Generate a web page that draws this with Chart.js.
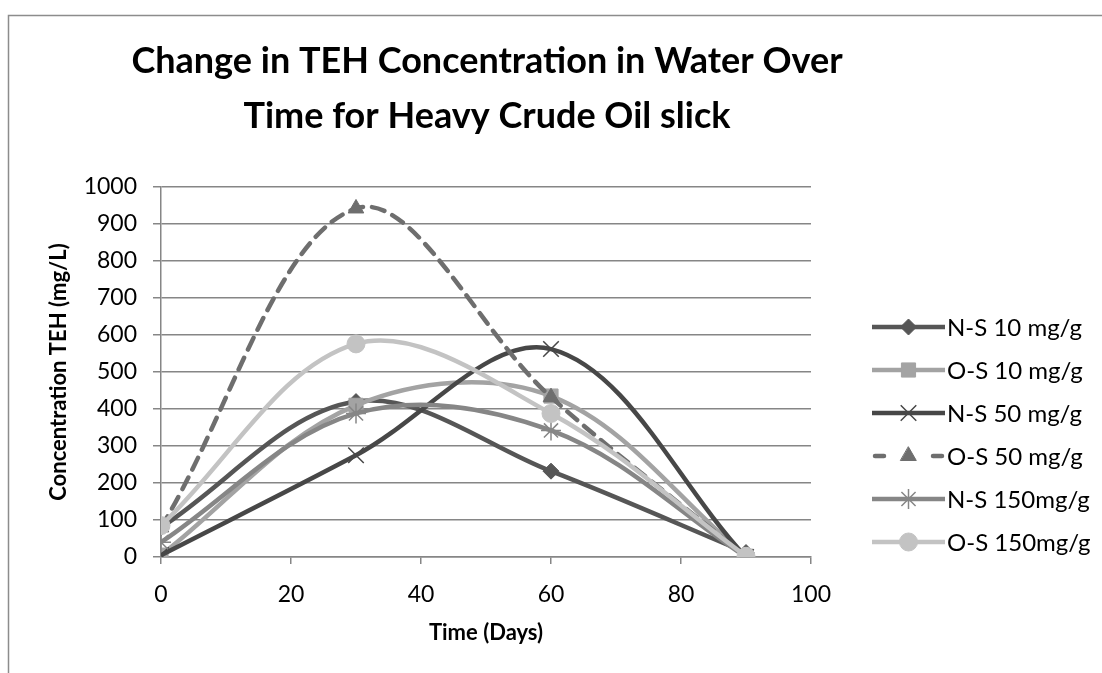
<!DOCTYPE html>
<html>
<head>
<meta charset="utf-8">
<script src="https://cdn.jsdelivr.net/npm/chart.js@4.4.1/dist/chart.umd.min.js"></script>
<style>
  html, body { margin: 0; padding: 0; background: #fff; }
  #wrap { width: 1102px; height: 673px; position: relative; }
</style>
</head>
<body>
<div id="wrap"><canvas id="chart" width="1102" height="673"></canvas></div>
<script>
// ---------- DATA ----------
const days = [0, 30, 60, 90];
const seriesNames = ["N-S 10 mg/g", "O-S 10 mg/g", "N-S 50 mg/g", "O-S 50 mg/g", "N-S 150mg/g", "O-S 150mg/g"];
const ns10 = [80, 420, 232, 12];
const os10 = [5, 410, 435, 2];
const ns50 = [5, 275, 562, 0];
const os50 = [80, 942, 432, 0];
const ns150 = [40, 388, 342, 0];
const os150 = [85, 576, 388, 2];
const xTicks = [0, 20, 40, 60, 80, 100];
const yTicks = [0, 100, 200, 300, 400, 500, 600, 700, 800, 900, 1000];
const titleLines = ["Change in TEH Concentration in Water Over", "Time for Heavy Crude Oil slick"];

const FONT = "Lato, 'Open Sans', sans-serif";

// ---------- STYLES ----------
const styles = [
  { color: "#565656", point: "rectRot", radius: 8, dash: [] },
  { color: "#a3a3a3", point: "rect", radius: 10, dash: [] },
  { color: "#474747", point: "crossRot", radius: 11, dash: [] },
  { color: "#6e6e6e", point: "triangle", radius: 9, dash: [13, 9] },
  { color: "#868686", point: "star", radius: 10, dash: [] },
  { color: "#c3c3c3", point: "circle", radius: 9, dash: [] }
];
const allSeries = [ns10, os10, ns50, os50, ns150, os150];

function toPoints(vals) {
  return days.map((d, i) => ({ x: d, y: vals[i] }));
}

const datasets = allSeries.map((vals, i) => {
  const s = styles[i];
  const lineMarker = s.point === "crossRot" || s.point === "star";
  return {
    label: seriesNames[i],
    data: toPoints(vals),
    borderColor: s.color,
    backgroundColor: s.color,
    borderWidth: 4.5,
    borderDash: s.dash,
    borderCapStyle: s.dash.length ? "round" : "butt",
    pointStyle: s.point,
    pointRadius: s.radius,
    pointBackgroundColor: s.color,
    pointBorderColor: s.color,
    pointBorderWidth: lineMarker ? 1.5 : 1,
    tension: 0.35,
    order: 6 - i  // later series on top, like the original
  };
});

// ---------- PLUGINS ----------
const frame = {
  id: "frame",
  beforeDraw(chart) {
    const ctx = chart.ctx;
    ctx.save();
    ctx.fillStyle = "#fff";
    ctx.fillRect(0, 0, chart.width, chart.height);
    ctx.strokeStyle = "#8c8c8c";
    ctx.lineWidth = 1.5;
    ctx.beginPath();
    ctx.moveTo(8.5, chart.height);
    ctx.lineTo(8.5, 15.5);
    ctx.lineTo(chart.width, 15.5);
    ctx.stroke();
    ctx.restore();
  }
};

// two-line title centred over the plot area (wider than the plot itself)
const bigTitle = {
  id: "bigTitle",
  afterDraw(chart) {
    const ctx = chart.ctx;
    const cx = (chart.chartArea.left + chart.chartArea.right) / 2 + 1;
    ctx.save();
    ctx.fillStyle = "#000";
    ctx.font = "bold 36px " + FONT;
    ctx.textAlign = "center";
    ctx.textBaseline = "middle";
    titleLines.forEach((t, i) => ctx.fillText(t, cx, 61 + i * 55));
    ctx.restore();
  }
};

// legend on the right: line sample + marker + label
const sideLegend = {
  id: "sideLegend",
  afterDraw(chart) {
    const ctx = chart.ctx;
    const x0 = 872, x1 = 945, top = 327, step = 43;
    chart.data.datasets.forEach((ds, i) => {
      const y = top + i * step;
      ctx.save();
      ctx.strokeStyle = ds.borderColor;
      ctx.lineWidth = ds.borderWidth;
      ctx.lineCap = ds.borderDash.length ? "round" : "butt";
      ctx.beginPath();
      if (ds.borderDash.length) {
        ctx.moveTo(x0 + 3, y); ctx.lineTo(x0 + 12, y);
        ctx.moveTo(x1 - 12, y); ctx.lineTo(x1 - 3, y);
      } else {
        ctx.moveTo(x0, y); ctx.lineTo(x1, y);
      }
      ctx.stroke();
      ctx.fillStyle = ds.pointBackgroundColor;
      ctx.strokeStyle = ds.pointBorderColor;
      ctx.lineWidth = ds.pointBorderWidth;
      Chart.helpers.drawPoint(ctx, {
        pointStyle: ds.pointStyle,
        radius: ds.pointRadius,
        rotation: 0,
        borderWidth: ds.pointBorderWidth
      }, (x0 + x1) / 2, y);
      ctx.fillStyle = "#000";
      ctx.font = "24px " + FONT;
      ctx.textBaseline = "middle";
      ctx.textAlign = "left";
      ctx.fillText(ds.label, 947, y + 1);
      ctx.restore();
    });
  }
};

new Chart(document.getElementById("chart"), {
  type: "line",
  data: { datasets },
  plugins: [frame, bigTitle, sideLegend],
  options: {
    responsive: false,
    animation: false,
    layout: { padding: { left: 0, right: 291, top: 187, bottom: 0 } },
    plugins: {
      legend: { display: false },
      tooltip: { enabled: false },
      title: { display: false }
    },
    scales: {
      x: {
        type: "linear",
        min: 0,
        max: 100,
        afterBuildTicks(scale) { scale.ticks = xTicks.map(v => ({ value: v })); },
        afterFit(scale) { scale.height = 116; },
        grid: { drawOnChartArea: false, drawTicks: true, tickLength: 7, color: "#868686", lineWidth: 1.5 },
        border: { display: true, color: "#868686", width: 1.5 },
        ticks: { color: "#000", font: { family: FONT, size: 23 }, padding: 17, maxRotation: 0,
                 callback: v => String(v) },
        title: {
          display: true,
          text: "Time (Days)",
          color: "#000",
          font: { family: FONT, size: 22, weight: "bold" },
          padding: { top: 0, bottom: 27 }
        }
      },
      y: {
        type: "linear",
        min: 0,
        max: 1000,
        afterBuildTicks(scale) { scale.ticks = yTicks.map(v => ({ value: v })); },
        afterFit(scale) { scale.width = 161; },
        grid: { drawTicks: true, tickLength: 8, color: "#868686", lineWidth: 1.5 },
        border: { display: true, color: "#868686", width: 1.5 },
        ticks: { color: "#000", font: { family: FONT, size: 23 }, padding: 16,
                 callback: v => String(v) },
        title: {
          display: true,
          text: "Concentration TEH (mg/L)",
          color: "#000",
          font: { family: FONT, size: 22, weight: "bold" },
          padding: { top: 46, bottom: 0 }
        }
      }
    }
  }
});
</script>
</body>
</html>
